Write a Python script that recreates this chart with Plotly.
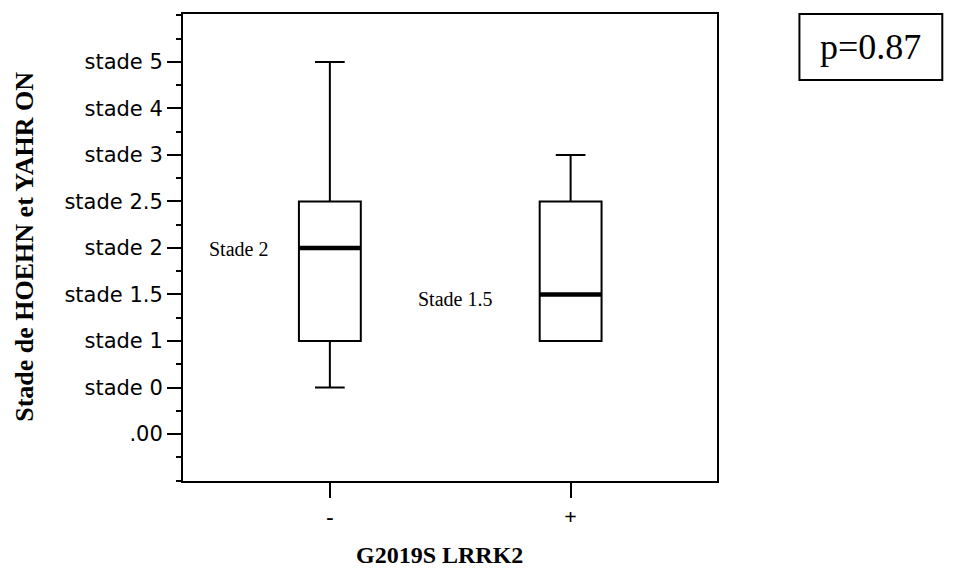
import plotly.graph_objects as go

# Data
y_labels = [".00", "stade 0", "stade 1", "stade 1.5", "stade 2", "stade 2.5", "stade 3", "stade 4", "stade 5"]
groups = ["-", "+"]
lower_whisker = ["stade 0", "stade 1"]
q1_vals = ["stade 1", "stade 1"]
median_vals = ["stade 2", "stade 1.5"]
q3_vals = ["stade 2.5", "stade 2.5"]
upper_whisker = ["stade 5", "stade 3"]
median_notes = ["Stade 2", "Stade 1.5"]
p_text = "p=0.87"

pos = lambda lab: y_labels.index(lab)
xs = list(range(len(groups)))

W, H = 955, 572
L, R, T, B = 183, 717.5, 14, 480.7
px = lambda x: (x - L) / (R - L)
py = lambda y: (B - y) / (B - T)

box_w = 0.257

fig = go.Figure()
fig.add_trace(go.Box(
    x=xs,
    q1=[pos(v) for v in q1_vals],
    median=[pos(v) for v in median_vals],
    q3=[pos(v) for v in q3_vals],
    lowerfence=[pos(v) for v in lower_whisker],
    upperfence=[pos(v) for v in upper_whisker],
    width=box_w,
    whiskerwidth=0.48,
    line=dict(color="black", width=2),
    fillcolor="white",
    boxpoints=False,
    showlegend=False,
    hoverinfo="skip",
))

# thick median lines
for i, m in enumerate(median_vals):
    fig.add_trace(go.Scatter(
        x=[xs[i] - box_w / 2, xs[i] + box_w / 2],
        y=[pos(m), pos(m)],
        mode="lines",
        line=dict(color="black", width=4.5),
        showlegend=False,
        hoverinfo="skip",
    ))

fig.update_layout(
    width=W, height=H,
    margin=dict(l=L, r=W - R, t=T, b=H - B, autoexpand=False),
    paper_bgcolor="white",
    plot_bgcolor="white",
    showlegend=False,
)

fig.update_xaxes(
    range=[-0.61, 1.608],
    tickvals=xs, ticktext=groups,
    ticks="outside", ticklen=15, tickwidth=2, tickcolor="black",
    tickfont=dict(family="Liberation Serif", size=22, color="black", weight="bold"),
    showline=True, mirror=True, linecolor="black", linewidth=2,
    showgrid=False, zeroline=False,
)
fig.update_yaxes(
    range=[-1.01, 9.03],
    tickvals=list(range(len(y_labels))), ticktext=y_labels,
    ticks="outside", ticklen=14, tickwidth=2, tickcolor="black",
    ticklabelstandoff=0,
    tickfont=dict(family="DejaVu Sans", size=21, color="black"),
    minor=dict(dtick=0.5, tick0=0, ticks="outside", ticklen=5, tickwidth=2, tickcolor="black"),
    showline=True, mirror=True, linecolor="black", linewidth=2,
    showgrid=False, zeroline=False,
)

annotations = [
    dict(text="Stade de HOEHN et YAHR ON", x=px(25), y=py(246.5), xref="paper", yref="paper",
         xanchor="center", yanchor="middle",
         textangle=-90, showarrow=False,
         font=dict(family="Liberation Serif", size=26, color="black", weight="bold")),
    dict(text="G2019S LRRK2", x=px(440), y=py(555), xref="paper", yref="paper",
         xanchor="center", yanchor="middle", showarrow=False,
         font=dict(family="Liberation Serif", size=24, color="black", weight="bold")),
    dict(text=p_text, x=px(871.5), y=py(47), xref="paper", yref="paper",
         xanchor="center", yanchor="middle", showarrow=False,
         font=dict(family="Liberation Serif", size=36, color="black")),
    dict(text=median_notes[0], x=-0.378, y=pos(median_vals[0]), xref="x", yref="y",
         xanchor="center", yanchor="middle", showarrow=False, yshift=-1,
         font=dict(family="Liberation Serif", size=20, color="black")),
    dict(text=median_notes[1], x=0.519, y=pos(median_vals[1]), xref="x", yref="y",
         xanchor="center", yanchor="middle", showarrow=False, yshift=-5,
         font=dict(family="Liberation Serif", size=20, color="black")),
]
fig.update_layout(annotations=annotations)

fig.add_shape(type="rect", xref="paper", yref="paper",
              x0=px(800), x1=px(943), y0=py(80), y1=py(14),
              line=dict(color="black", width=2), fillcolor="rgba(0,0,0,0)")

fig.write_html("out.html")
